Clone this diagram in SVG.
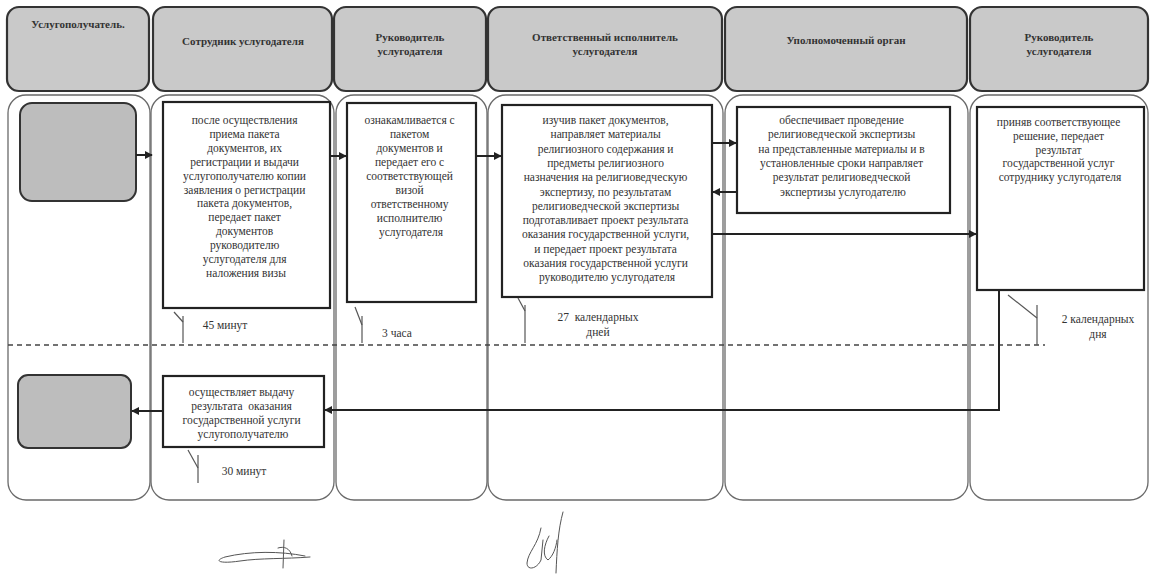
<svg xmlns="http://www.w3.org/2000/svg" width="1151" height="574" viewBox="0 0 1151 574">
<style>
.hdr{fill:#c9c9c9;stroke:#333;stroke-width:2.2}
.lane{fill:none;stroke:#6a6a6a;stroke-width:1.3}
.box{fill:#fff;stroke:#222;stroke-width:2.2}
.gbox{fill:#bdbdbd;stroke:#333;stroke-width:2}
.ht{font-family:"Liberation Serif",serif;font-weight:bold;font-size:11px;fill:#333;text-anchor:middle}
.t{font-family:"Liberation Serif",serif;font-size:11.5px;fill:#333;text-anchor:middle}
.c{fill:none;stroke:#222;stroke-width:2}
.tick{fill:none;stroke:#555;stroke-width:1.2}
.dash{fill:none;stroke:#444;stroke-width:1.3;stroke-dasharray:5 4}
.sig{fill:none;stroke:#555;stroke-width:1;stroke-linecap:round}
</style>
<defs>
<marker id="ah" viewBox="0 0 10 10" refX="9" refY="5" markerWidth="4" markerHeight="4" orient="auto">
<path d="M0,0 L10,5 L0,10 z" fill="#222"/>
</marker>
</defs>

<g id="lanes">
<rect class="lane" x="8" y="95" width="142" height="405" rx="18"/>
<rect class="lane" x="151" y="95" width="183" height="405" rx="18"/>
<rect class="lane" x="336" y="95" width="151" height="405" rx="18"/>
<rect class="lane" x="488" y="95" width="235" height="405" rx="18"/>
<rect class="lane" x="725" y="95" width="243" height="405" rx="18"/>
<rect class="lane" x="970" y="95" width="178" height="405" rx="18"/>
</g>

<g id="headers">
<g id="h1"><rect class="hdr" x="7" y="7" width="142" height="84" rx="12"/><text class="ht" x="78" y="28">Услугополучатель.</text></g>
<g id="h2"><rect class="hdr" x="153" y="7" width="179" height="84" rx="12"/><text class="ht" x="243" y="45">Сотрудник услугодателя</text></g>
<g id="h3"><rect class="hdr" x="334" y="7" width="152" height="84" rx="12"/><text class="ht" x="410" y="41">Руководитель</text><text class="ht" x="410" y="55">услугодателя</text></g>
<g id="h4"><rect class="hdr" x="488" y="7" width="234" height="84" rx="12"/><text class="ht" x="605" y="41">Ответственный исполнитель</text><text class="ht" x="605" y="55">услугодателя</text></g>
<g id="h5"><rect class="hdr" x="725" y="7" width="242" height="84" rx="12"/><text class="ht" x="846" y="44">Уполномоченный орган</text></g>
<g id="h6"><rect class="hdr" x="970" y="7" width="178" height="84" rx="12"/><text class="ht" x="1059" y="41">Руководитель</text><text class="ht" x="1059" y="55">услугодателя</text></g>
</g>

<line class="dash" x1="8" y1="345" x2="1045" y2="345"/>

<g id="n_start"><rect class="gbox" x="20" y="103" width="116" height="98" rx="12"/></g>

<g id="n_a">
<rect class="box" x="163" y="102" width="167" height="206"/>
<text class="t" y="124">
<tspan x="246">после осуществления</tspan>
<tspan x="246" dy="13.9">приема пакета</tspan>
<tspan x="246" dy="13.9">документов, их</tspan>
<tspan x="246" dy="13.9">регистрации и выдачи</tspan>
<tspan x="246" dy="13.9">услугополучателю копии</tspan>
<tspan x="246" dy="13.9">заявления о регистрации</tspan>
<tspan x="246" dy="13.9">пакета документов,</tspan>
<tspan x="246" dy="13.9">передает пакет</tspan>
<tspan x="246" dy="13.9">документов</tspan>
<tspan x="246" dy="13.9">руководителю</tspan>
<tspan x="246" dy="13.9">услугодателя для</tspan>
<tspan x="246" dy="13.9">наложения визы</tspan>
</text>
</g>

<g id="n_b">
<rect class="box" x="347" y="103" width="129" height="199"/>
<text class="t" y="124">
<tspan x="411">ознакамливается с</tspan>
<tspan x="411" dy="14">пакетом</tspan>
<tspan x="411" dy="14">документов и</tspan>
<tspan x="411" dy="14">передает его с</tspan>
<tspan x="411" dy="14">соответствующей</tspan>
<tspan x="411" dy="14">визой</tspan>
<tspan x="411" dy="14">ответственному</tspan>
<tspan x="411" dy="14">исполнителю</tspan>
<tspan x="411" dy="14">услугодателя</tspan>
</text>
</g>

<g id="n_c">
<rect class="box" x="502" y="105" width="210" height="192"/>
<text class="t" y="124">
<tspan x="607">изучив пакет документов,</tspan>
<tspan x="607" dy="14.3">направляет материалы</tspan>
<tspan x="607" dy="14.3">религиозного содержания и</tspan>
<tspan x="607" dy="14.3">предметы религиозного</tspan>
<tspan x="607" dy="14.3">назначения на религиоведческую</tspan>
<tspan x="607" dy="14.3">экспертизу, по результатам</tspan>
<tspan x="607" dy="14.3">религиоведческой экспертизы</tspan>
<tspan x="607" dy="14.3">подготавливает проект результата</tspan>
<tspan x="607" dy="14.3">оказания государственной услуги,</tspan>
<tspan x="607" dy="14.3">и передает проект результата</tspan>
<tspan x="607" dy="14.3">оказания государственной услуги</tspan>
<tspan x="607" dy="14.3">руководителю услугодателя</tspan>
</text>
</g>

<g id="n_d">
<rect class="box" x="737" y="107" width="213" height="106"/>
<text class="t" y="124">
<tspan x="843">обеспечивает проведение</tspan>
<tspan x="843" dy="14.3">религиоведческой экспертизы</tspan>
<tspan x="843" dy="14.3">на представленные материалы и в</tspan>
<tspan x="843" dy="14.3">установленные сроки направляет</tspan>
<tspan x="843" dy="14.3">результат религиоведческой</tspan>
<tspan x="843" dy="14.3">экспертизы услугодателю</tspan>
</text>
</g>

<g id="n_e">
<rect class="box" x="977" y="107" width="167" height="183"/>
<text class="t" y="126">
<tspan x="1060">приняв соответствующее</tspan>
<tspan x="1060" dy="13.8">решение, передает</tspan>
<tspan x="1060" dy="13.8">результат</tspan>
<tspan x="1060" dy="13.8">государственной услуг</tspan>
<tspan x="1060" dy="13.8">сотруднику услугодателя</tspan>
</text>
</g>

<g id="n_f">
<rect class="box" x="163" y="376" width="161" height="71"/>
<text class="t" y="396">
<tspan x="243">осуществляет выдачу</tspan>
<tspan x="243" dy="14">результата&#160; оказания</tspan>
<tspan x="243" dy="14">государственной услуги</tspan>
<tspan x="243" dy="14">услугополучателю</tspan>
</text>
</g>

<g id="n_end"><rect class="gbox" x="18" y="375" width="113" height="73" rx="10"/></g>

<g id="connectors">
<line class="c" x1="136" y1="155" x2="152" y2="155" marker-end="url(#ah)"/>
<line class="c" x1="330" y1="156" x2="346" y2="156" marker-end="url(#ah)"/>
<line class="c" x1="476" y1="156" x2="501" y2="156" marker-end="url(#ah)"/>
<line class="c" x1="712" y1="143" x2="736" y2="143" marker-end="url(#ah)"/>
<line class="c" x1="737" y1="192" x2="713" y2="192" marker-end="url(#ah)"/>
<line class="c" x1="712" y1="234" x2="976" y2="234" marker-end="url(#ah)"/>
<polyline class="c" points="999,290 999,410 325,410" marker-end="url(#ah)"/>
<line class="c" x1="163" y1="411" x2="132" y2="411" marker-end="url(#ah)"/>
</g>

<g id="times">
<polyline class="tick" points="174,312 183,322"/><line class="tick" x1="183" y1="316" x2="183" y2="343"/>
<text class="t" x="225" y="329">45 минут</text>
<polyline class="tick" points="355,307 362,325"/><line class="tick" x1="362" y1="316" x2="362" y2="343"/>
<text class="t" x="397" y="337">3 часа</text>
<polyline class="tick" points="518,298 525,311"/><line class="tick" x1="525" y1="305" x2="525" y2="343"/>
<text class="t" x="598" y="321">27&#160; календарных</text>
<text class="t" x="598" y="336">дней</text>
<polyline class="tick" points="1008,295 1037,318"/><line class="tick" x1="1037" y1="305" x2="1037" y2="345"/>
<text class="t" x="1098" y="323">2 календарных</text>
<text class="t" x="1098" y="338">дня</text>
<polyline class="tick" points="188,450 198,468"/><line class="tick" x1="198" y1="455" x2="198" y2="483"/>
<text class="t" x="244" y="475">30 минут</text>
</g>

<g id="signatures">
<path class="sig" d="M305,556 C280,551 250,551 225,557 C213,561 220,564 240,561 C260,558 285,559 310,557"/>
<path class="sig" d="M284,540 L283,568 M278,548 C284,546 290,548 292,556"/>
<path class="sig" d="M563,512 C558,530 557,550 556,573 M549,536 C544,545 542,556 548,560 C553,556 556,548 557,540 M541,528 C538,545 528,552 527,563 C527,571 537,569 541,560 L543,540"/>
</g>
</svg>
